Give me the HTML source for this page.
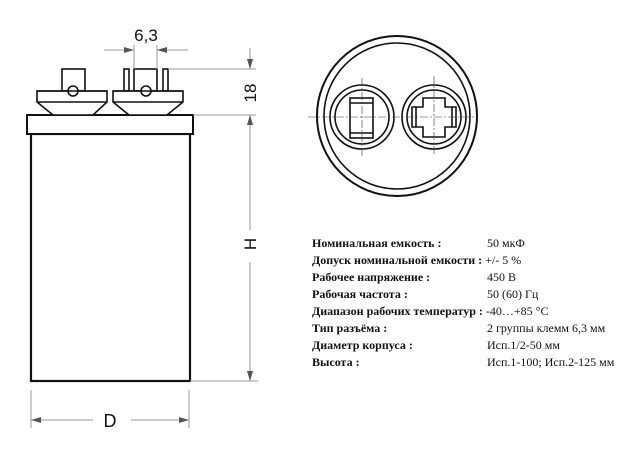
<!DOCTYPE html><html><head><meta charset="utf-8"><style>
body{margin:0;background:#fff;width:640px;height:450px;overflow:hidden}
.t{position:absolute;font-family:"Liberation Serif",serif;font-size:12px;color:#111;white-space:nowrap}
.t b{font-weight:bold}
</style></head><body>
<svg width="640" height="450" style="position:absolute;left:0;top:0">
<defs><marker id="a" markerWidth="10" markerHeight="6" refX="10" refY="3" orient="auto" markerUnits="userSpaceOnUse"><path d="M0,0L10,3L0,6z" fill="#555"/></marker></defs>
<g fill="#fff" stroke="#111" stroke-width="1.6">
<rect x="31" y="134" width="159" height="247" stroke-width="2.2"/>
<rect x="27" y="115" width="166" height="19" stroke-width="2"/>
<rect x="62" y="69" width="23" height="22"/>
<rect x="124" y="69" width="5" height="22"/><rect x="163" y="69" width="5" height="22"/>
<rect x="134" y="69" width="23" height="22"/>
<path d="M37,91H107V102L93,115H53L37,102Z"/>
<line x1="37" y1="102" x2="107" y2="102"/>
<path d="M113,91H183V102L167,115H129L113,102Z"/>
<line x1="113" y1="102" x2="183" y2="102"/>
<circle cx="73" cy="91" r="5"/><circle cx="146" cy="91" r="5"/>
<line x1="37" y1="91" x2="107" y2="91"/><line x1="113" y1="91" x2="183" y2="91"/>
</g>
<g stroke="#999" stroke-width="1" fill="none">
<line x1="134" y1="45" x2="134" y2="69"/><line x1="157" y1="45" x2="157" y2="69"/>
<line x1="104" y1="50" x2="134" y2="50" marker-end="url(#a)"/><line x1="188" y1="50" x2="157" y2="50" marker-end="url(#a)"/>
<line x1="168" y1="69" x2="256" y2="69"/><line x1="193" y1="115" x2="256" y2="115"/>
<line x1="250" y1="48" x2="250" y2="69" marker-end="url(#a)"/>
<line x1="250" y1="230" x2="250" y2="115" marker-end="url(#a)"/>
<line x1="250" y1="262" x2="250" y2="381" marker-end="url(#a)"/>
<line x1="190" y1="381" x2="258" y2="381"/>
<line x1="31" y1="390" x2="31" y2="428"/><line x1="189" y1="390" x2="189" y2="428"/>
<line x1="93" y1="420" x2="31" y2="420" marker-end="url(#a)"/><line x1="131" y1="420" x2="189" y2="420" marker-end="url(#a)"/>
</g>
<text x="146" y="41" font-family="Liberation Sans,sans-serif" font-size="17" text-anchor="middle" fill="#111">6,3</text>
<text transform="translate(256,93) rotate(-90)" font-family="Liberation Sans,sans-serif" font-size="17" text-anchor="middle" fill="#111">18</text>
<text transform="translate(256,244) rotate(-90)" font-family="Liberation Sans,sans-serif" font-size="17" text-anchor="middle" fill="#111">H</text>
<text x="110" y="427" font-family="Liberation Sans,sans-serif" font-size="18" text-anchor="middle" fill="#111">D</text>
<g fill="none" stroke="#111" stroke-width="1.6">
<circle cx="397" cy="116" r="80" stroke-width="2"/>
<circle cx="397" cy="116" r="73"/>
<circle cx="362" cy="117" r="32"/><circle cx="362" cy="117" r="27"/>
<circle cx="434" cy="117" r="32"/><circle cx="434" cy="117" r="27"/>
<rect x="350" y="98" width="23" height="40"/>
<line x1="350" y1="103" x2="373" y2="103"/><line x1="350" y1="133" x2="373" y2="133"/>
<path d="M423,98H445V107H456V127H445V137H423V127H412V107H423Z"/>
<line x1="416" y1="107" x2="416" y2="127"/><line x1="452" y1="107" x2="452" y2="127"/>
</g>
<g stroke="#333" stroke-width="0.6" stroke-dasharray="8,2,2,2" fill="none">
<line x1="308" y1="117" x2="476" y2="117"/>
<line x1="362" y1="78" x2="362" y2="158"/><line x1="434" y1="76" x2="434" y2="155"/>
</g>
</svg>
<div class="t" style="left:312px;top:236px"><b>Номинальная емкость :</b></div><div class="t" style="left:487px;top:236px">50 мкФ</div>
<div class="t" style="left:312px;top:253px"><b>Допуск номинальной емкости :</b> +/- 5 %</div>
<div class="t" style="left:312px;top:270px"><b>Рабочее напряжение :</b></div><div class="t" style="left:487px;top:270px">450 В</div>
<div class="t" style="left:312px;top:287px"><b>Рабочая частота :</b></div><div class="t" style="left:487px;top:287px">50 (60) Гц</div>
<div class="t" style="left:312px;top:304px"><b>Диапазон рабочих температур :</b> -40…+85 °С</div>
<div class="t" style="left:312px;top:321px"><b>Тип разъёма :</b></div><div class="t" style="left:487px;top:321px">2 группы клемм 6,3 мм</div>
<div class="t" style="left:312px;top:338px"><b>Диаметр корпуса :</b></div><div class="t" style="left:487px;top:338px">Исп.1/2-50 мм</div>
<div class="t" style="left:312px;top:355px"><b>Высота :</b></div><div class="t" style="left:487px;top:355px">Исп.1-100; Исп.2-125 мм</div>
</body></html>
